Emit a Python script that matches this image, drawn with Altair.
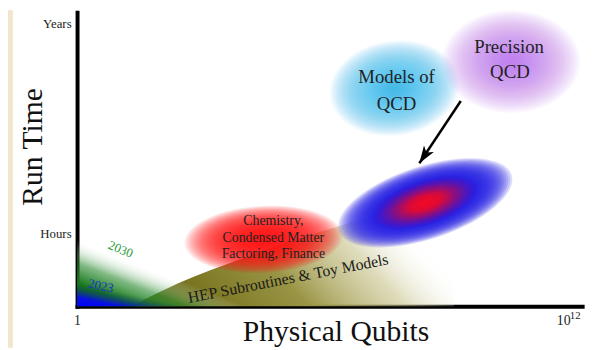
import math
import altair as alt
import pandas as pd

# ---------------- data ----------------
# x: log10(physical qubits), y: log10(run time in seconds)
x_tick_values = [0, 11.84]
x_tick_labels = ["1", "10"]
x_exponent = "12"                        # superscript of the 10^12 label
y_tick_values = [3.556, 7.499]          # one hour, one year
y_tick_labels = ["Hours", "Years"]

# regions along the axes
green_x = [0.0, 4.13]
green_top = [3.445, 2.18]
blue_x = [0.0, 2.69]
blue_top = [2.61, 2.18]
olive_x = [1.42, 2.45, 4.13, 6.29, 7.73, 9.18]
olive_top = [2.22, 2.61, 3.11, 3.67, 3.97, 4.10]

# application blobs
blob_names = ["chem", "sim", "models", "precision"]
blob_x = [4.54, 8.48, 7.73, 10.57]
blob_y = [3.44, 4.13, 6.29, 6.79]

# labels
label_text = ["Chemistry,", "Condensed Matter", "Factoring, Finance",
              "Models of", "QCD", "Precision", "QCD",
              "HEP Subroutines & Toy Models", "2030", "2023"]
label_x = [4.78, 4.78, 4.78, 7.78, 7.78, 10.52, 10.54, 5.14, 1.06, 0.58]
label_y = [3.78, 3.474, 3.167, 6.49, 5.99, 7.07, 6.60, 2.70, 3.25, 2.56]

# arrow (from the QCD goals to the simulation blob)
arrow_x = [9.344, 8.335]
arrow_y = [6.047, 4.876]

# ---------------- layout / style ----------------
X_MIN, X_MAX = 0.0, 12.3
Y_MIN, Y_MAX = 2.18, 7.72
W, H = 512, 298
PX_X = W / (X_MAX - X_MIN)
PX_Y = H / (Y_MAX - Y_MIN)
FONT = "Liberation Serif"

xs = alt.Scale(domain=[X_MIN, X_MAX], nice=False, zero=False)
ys = alt.Scale(domain=[Y_MIN, Y_MAX], nice=False, zero=False)

x_expr = " : ".join(f"datum.value == {v} ? '{t}'" for v, t in zip(x_tick_values, x_tick_labels)) + " : ''"
y_expr = " : ".join(f"datum.value == {v} ? '{t}'" for v, t in zip(y_tick_values, y_tick_labels)) + " : ''"

x_axis = alt.Axis(values=x_tick_values, labelExpr=x_expr, ticks=False, grid=False,
                  domainColor="black", domainWidth=4, domainCap="square",
                  labelFont=FONT, labelFontSize=14, labelColor="#222", labelPadding=7,
                  labelFlush=False,
                  title="Physical Qubits", titleFont=FONT, titleFontSize=30,
                  titleFontWeight="normal", titleColor="#111",
                  titleX=262, titleY=35, titleBaseline="alphabetic", titleAlign="center")
y_axis = alt.Axis(values=y_tick_values, labelExpr=y_expr, ticks=False, grid=False,
                  domainColor="black", domainWidth=4, domainCap="square",
                  labelFont=FONT, labelFontSize=13, labelColor="#222", labelPadding=6,
                  labelFlush=False,
                  title="Run Time", titleFont=FONT, titleFontSize=30,
                  titleFontWeight="normal", titleColor="#111",
                  titleX=-36, titleY=136, titleAngle=270,
                  titleBaseline="alphabetic", titleAlign="center")


def X(field="x"):
    return alt.X(f"{field}:Q", scale=xs, axis=x_axis)


def Y(field="y"):
    return alt.Y(f"{field}:Q", scale=ys, axis=y_axis)


def hex2rgb(h):
    h = h.lstrip("#")
    return [int(h[i:i + 2], 16) for i in (0, 2, 4)]


def mix(c1, c2, t):
    t = max(0.0, min(1.0, t))
    a, b = hex2rgb(c1), hex2rgb(c2)
    return "#" + "".join(f"{round(a[i] + (b[i] - a[i]) * t):02x}" for i in range(3))


def ellipse_path(ratio, n=72):
    pts = []
    for k in range(n):
        t = 2 * math.pi * k / n
        pts.append(f"{math.cos(t):.4f},{ratio * math.sin(t):.4f}")
    return "M" + " L".join(pts) + " Z"


# concentric translucent ellipses give the soft, blurred look
ring_scales = [1 - 0.024 * k for k in range(40)]


def sim_color(s):
    if s >= 0.62:
        return "#2418e2"
    return mix("#2418e2", "#f20a26", (0.62 - s) / 0.40)


def sim_op(s):
    return 0.15 if s >= 0.62 else 0.28


blob_style = {
    "chem": dict(a=80, b=34, angle=357, color=lambda s: "#ff1818", op=lambda s: 0.085),
    "sim": dict(a=92, b=37, angle=342, color=sim_color, op=sim_op),
    "models": dict(a=66, b=48, angle=352, color=lambda s: mix("#6ccdf0", "#30b8e6", 1 - s),
                   op=lambda s: 0.072),
    "precision": dict(a=70, b=52, angle=0, color=lambda s: mix("#d4a6f6", "#bb6cf2", 1 - s),
                      op=lambda s: 0.066),
}

# ---------------- layers ----------------
layers = []

# page stripe on the left
layers.append(alt.Chart(pd.DataFrame({"k": [0]})).mark_rect(color="#f1e6cd").encode(
    x=alt.value(-70), x2=alt.value(-65), y=alt.value(-2), y2=alt.value(340)))

# olive region (HEP subroutines)
olive_df = pd.DataFrame({"x": olive_x, "y": olive_top, "y2": [Y_MIN] * len(olive_x)})
layers.append(alt.Chart(olive_df).mark_area(
    interpolate="monotone",
    color=alt.Gradient(gradient="linear", x1=0, y1=1, x2=1, y2=0.7, stops=[
        alt.GradientStop(color="#5e6818", offset=0),
        alt.GradientStop(color="#7c7824", offset=0.25),
        alt.GradientStop(color="#9a9545", offset=0.5),
        alt.GradientStop(color="rgba(200,195,140,0.6)", offset=0.78),
        alt.GradientStop(color="rgba(255,255,255,0)", offset=1)])
).encode(x=X(), y=Y(), y2="y2:Q"))

# green region (2030)
green_df = pd.DataFrame({"x": green_x, "y": green_top, "y2": [Y_MIN] * 2})
layers.append(alt.Chart(green_df).mark_area(
    color=alt.Gradient(gradient="linear", x1=0, y1=1, x2=0.5, y2=0.5, stops=[
        alt.GradientStop(color="#0a5a12", offset=0),
        alt.GradientStop(color="#17781d", offset=0.35),
        alt.GradientStop(color="rgba(45,140,50,0.6)", offset=0.65),
        alt.GradientStop(color="rgba(255,255,255,0)", offset=1)])
).encode(x=X(), y=Y(), y2="y2:Q"))

# blue region (2023)
blue_df = pd.DataFrame({"x": blue_x, "y": blue_top, "y2": [Y_MIN] * 2})
layers.append(alt.Chart(blue_df).mark_area(
    color=alt.Gradient(gradient="linear", x1=0, y1=1, x2=0.5, y2=0.5, stops=[
        alt.GradientStop(color="#0000ff", offset=0),
        alt.GradientStop(color="#0812e0", offset=0.4),
        alt.GradientStop(color="rgba(10,80,60,0)", offset=1)])
).encode(x=X(), y=Y(), y2="y2:Q"))

# soft blobs
for name, bx, by in zip(blob_names, blob_x, blob_y):
    st = blob_style[name]
    rows = [{"x": bx, "y": by, "size": (2 * st["a"] * s) ** 2,
             "color": st["color"](s), "op": st["op"](s)} for s in ring_scales]
    layers.append(alt.Chart(pd.DataFrame(rows)).mark_point(
        shape=ellipse_path(st["b"] / st["a"]), filled=True, strokeWidth=0,
        angle=st["angle"]
    ).encode(x=X(), y=Y(),
             size=alt.Size("size:Q", scale=None),
             color=alt.Color("color:N", scale=None),
             opacity=alt.Opacity("op:Q", scale=None)))

# arrow
arrow_df = pd.DataFrame({"x": [arrow_x[0]], "y": [arrow_y[0]],
                         "x2": [arrow_x[1]], "y2": [arrow_y[1]]})
layers.append(alt.Chart(arrow_df).mark_rule(color="black", strokeWidth=2.5).encode(
    x=X(), y=Y(), x2="x2:Q", y2="y2:Q"))
dx = (arrow_x[1] - arrow_x[0]) * PX_X
dy = -(arrow_y[1] - arrow_y[0]) * PX_Y
head_angle = (math.degrees(math.atan2(dx, -dy)) + 360) % 360
head_df = pd.DataFrame({"x": [arrow_x[1]], "y": [arrow_y[1]]})
layers.append(alt.Chart(head_df).mark_point(
    shape="M0,0 L0.6,1.75 L0,1.3 L-0.6,1.75 Z", filled=True, size=400,
    color="black", opacity=1, angle=head_angle
).encode(x=X(), y=Y()))

# labels
label_size = [14, 14, 14, 19, 19, 19, 19, 16, 13, 13]
label_angle = [0, 0, 0, 0, 0, 0, 0, 349, 22, 12]
label_color = ["#222"] * 7 + ["#1a1a1a", "#2e9e3e", "#1a30d0"]
text_df = pd.DataFrame({"x": label_x, "y": label_y, "text": label_text,
                        "size": label_size, "angle": label_angle, "color": label_color})
layers.append(alt.Chart(text_df).mark_text(font=FONT, baseline="middle", align="center").encode(
    x=X(), y=Y(), text="text:N",
    size=alt.Size("size:Q", scale=None),
    angle=alt.Angle("angle:Q", scale=None),
    color=alt.Color("color:N", scale=None)))

# superscript of the 10^12 tick label (sits just below the axis line)
sup_df = pd.DataFrame({"x": [12.13], "y": [Y_MIN - 0.19], "text": [x_exponent]})
layers.append(alt.Chart(sup_df).mark_text(font=FONT, fontSize=11, color="#222",
                                          baseline="middle", align="center").encode(
    x=X(), y=Y(), text="text:N"))

chart = alt.layer(*layers).properties(
    width=W, height=H, autosize="none",
    padding={"left": 70, "top": 2, "right": 12, "bottom": 42}
).configure_view(stroke=None)

chart.save("out.html", embed_options={"renderer": "svg", "actions": False})
